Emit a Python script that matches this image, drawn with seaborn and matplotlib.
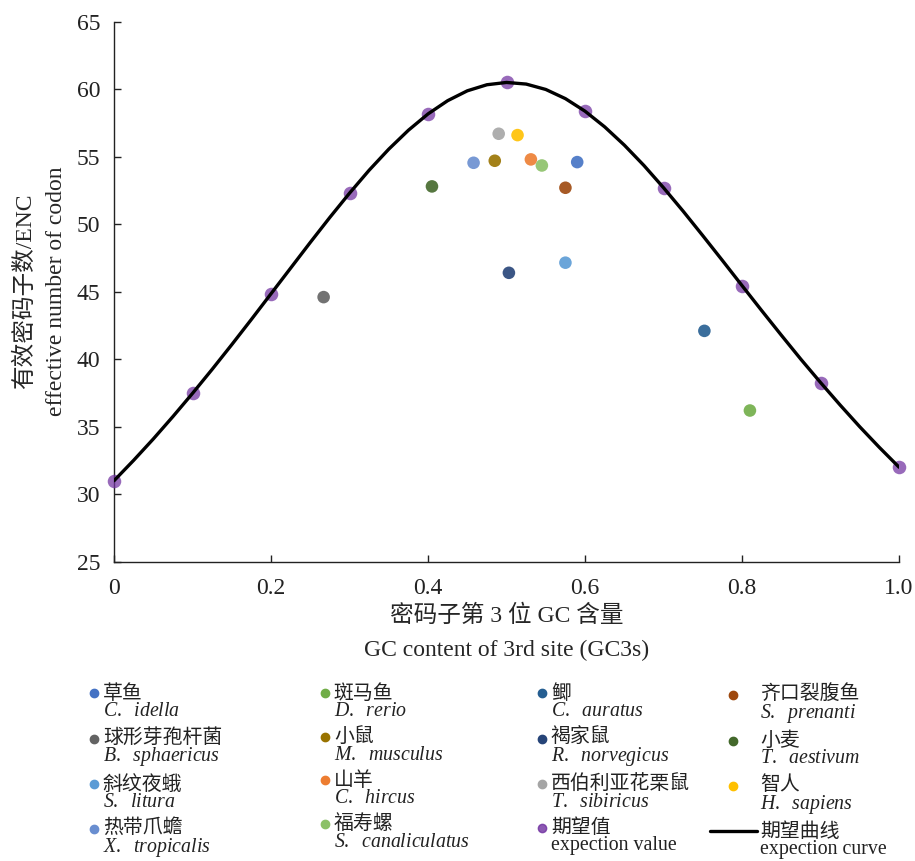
import numpy as np
import pandas as pd
import seaborn as sns
import matplotlib
matplotlib.use("Agg")
import matplotlib.pyplot as plt
from matplotlib.lines import Line2D
from matplotlib.legend_handler import HandlerLine2D

# species, in legend order (row by row, 4 per row)
species_cn = ["草鱼", "斑马鱼", "鲫", "齐口裂腹鱼",
              "球形芽孢杆菌", "小鼠", "褐家鼠", "小麦",
              "斜纹夜蛾", "山羊", "西伯利亚花栗鼠", "智人",
              "热带爪蟾", "福寿螺"]
species_la = ["C. idella", "D. rerio", "C. auratus", "S. prenanti",
              "B. sphaericus", "M. musculus", "R. norvegicus", "T. aestivum",
              "S. litura", "C. hircus", "T. sibiricus", "H. sapiens",
              "X. tropicalis", "S. canaliculatus"]
species_gc3 = [0.590, 0.810, 0.752, 0.575,
               0.267, 0.485, 0.503, 0.405,
               0.575, 0.531, 0.490, 0.514,
               0.458, 0.545]
species_enc = [54.6, 36.2, 42.1, 52.7,
               44.6, 54.7, 46.4, 52.8,
               47.15, 54.8, 56.7, 56.6,
               54.55, 54.35]
species_colors = ["#4472C4", "#70AD47", "#255E91", "#9E480E",
                  "#636363", "#997300", "#264478", "#43682B",
                  "#5B9BD5", "#ED7D31", "#A5A5A5", "#FFC000",
                  "#698ED0", "#8CC168"]

# expected values
exp_gc3 = [0.0, 0.1, 0.2, 0.3, 0.4, 0.5, 0.6, 0.7, 0.8, 0.9, 1.0]
exp_enc = [31.0, 37.47, 44.85, 52.3, 58.17, 60.5, 58.37, 52.7, 45.45, 38.27, 32.0]

# expected curve
curve_gc3 = [0.0, 0.025, 0.05, 0.075, 0.1, 0.125, 0.15, 0.175, 0.2, 0.225,
             0.25, 0.275, 0.3, 0.325, 0.35, 0.375, 0.4, 0.425, 0.45, 0.475,
             0.5, 0.525, 0.55, 0.575, 0.6, 0.625, 0.65, 0.675, 0.7, 0.725,
             0.75, 0.775, 0.8, 0.825, 0.85, 0.875, 0.9, 0.925, 0.95, 0.975, 1.0]
curve_enc = [31.0, 32.51, 34.09, 35.75, 37.47, 39.25, 41.08, 42.95, 44.85, 46.75,
             48.65, 50.51, 52.3, 54.0, 55.56, 56.96, 58.17, 59.15, 59.88, 60.33,
             60.5, 60.38, 59.98, 59.3, 58.37, 57.21, 55.86, 54.35, 52.7, 50.96,
             49.15, 47.31, 45.45, 43.6, 41.78, 39.99, 38.27, 36.6, 34.99, 33.46, 32.0]

xtick_labels = ["0", "0.2", "0.4", "0.6", "0.8", "1.0"]

sns.set_style("ticks")
plt.rcParams["font.family"] = ["Liberation Serif", "Noto Sans CJK SC"]
plt.rcParams["mathtext.fontset"] = "custom"
plt.rcParams["mathtext.it"] = "Liberation Serif:italic"
plt.rcParams["mathtext.rm"] = "Liberation Serif"
plt.rcParams["text.color"] = "#222222"

fig = plt.figure(figsize=(9.15, 8.61), dpi=100)
ax = fig.add_axes([0.1246, 0.3476, 0.858, 0.6272])

df = pd.DataFrame({"gc3": species_gc3, "enc": species_enc, "species": species_cn})
palette = dict(zip(species_cn, species_colors))
sns.scatterplot(data=df, x="gc3", y="enc", hue="species", palette=palette,
                s=82, linewidth=0, alpha=0.9, legend=False, clip_on=False,
                ax=ax, zorder=3)
sns.scatterplot(x=exp_gc3, y=exp_enc, color="#7030A0", s=95, linewidth=0,
                alpha=0.72, clip_on=False, ax=ax, zorder=3)
sns.lineplot(x=curve_gc3, y=curve_enc, color="black", linewidth=2.4,
             estimator=None, ax=ax, zorder=4)

ax.set_xlim(0, 1)
ax.set_ylim(25, 65)
ax.set_xticks([0, 0.2, 0.4, 0.6, 0.8, 1.0])
ax.set_xticklabels(xtick_labels)
ax.set_yticks(np.arange(25, 66, 5))
ax.tick_params(direction="in", length=5, width=1, colors="#222222",
               labelsize=17, pad=10)
ax.tick_params(axis="x", pad=12)
for sp in ["left", "bottom"]:
    ax.spines[sp].set_linewidth(1)
    ax.spines[sp].set_color("#222222")
sns.despine(ax=ax)

ax.set_xlabel("密码子第 3 位 GC 含量\nGC content of 3rd site (GC3s)",
              fontsize=17, linespacing=1.8, labelpad=4)
ax.set_ylabel("有效密码子数/ENC\neffective number of codon",
              fontsize=17, linespacing=1.6)
ax.yaxis.set_label_coords(-0.06, 0.5)

# legend: 4 columns, marker beside the Chinese name
handles = [Line2D([], [], marker="o", ls="", color=c, markersize=6)
           for c in species_colors]
labels = [f"{cn}\n$\\mathit{{{la.replace(' ', '\\ \\ ')}}}$"
          for cn, la in zip(species_cn, species_la)]
handles.append(Line2D([], [], marker="o", ls="", color="#7030A0", alpha=0.8,
                      markersize=6))
labels.append("期望值\nexpection value")
handles.append(Line2D([], [], color="black", linewidth=2.4))
labels.append("期望曲线\nexpection curve")


def lift(legend_handle, orig_handle):
    legend_handle.update_from(orig_handle)
    legend_handle.set_ydata(np.asarray(legend_handle.get_ydata()) + 7)


col_x = [0.0973, 0.3497, 0.5869, 0.776]
for c in range(4):
    idx = [c, c + 4, c + 8, c + 12]
    long_handle = c == 3
    leg = fig.legend([handles[i] for i in idx], [labels[i] for i in idx],
                     loc="upper left", bbox_to_anchor=(col_x[c], 0.2045),
                     frameon=False, fontsize=14.3, borderpad=0, borderaxespad=0,
                     handlelength=2.36 if long_handle else 0.5,
                     handletextpad=0.15 if long_handle else 0.2,
                     labelspacing=0.36,
                     handler_map={Line2D: HandlerLine2D(update_func=lift)})
    for t in leg.get_texts():
        t.set_linespacing(0.88)

fig.savefig("out.png", dpi=100)
